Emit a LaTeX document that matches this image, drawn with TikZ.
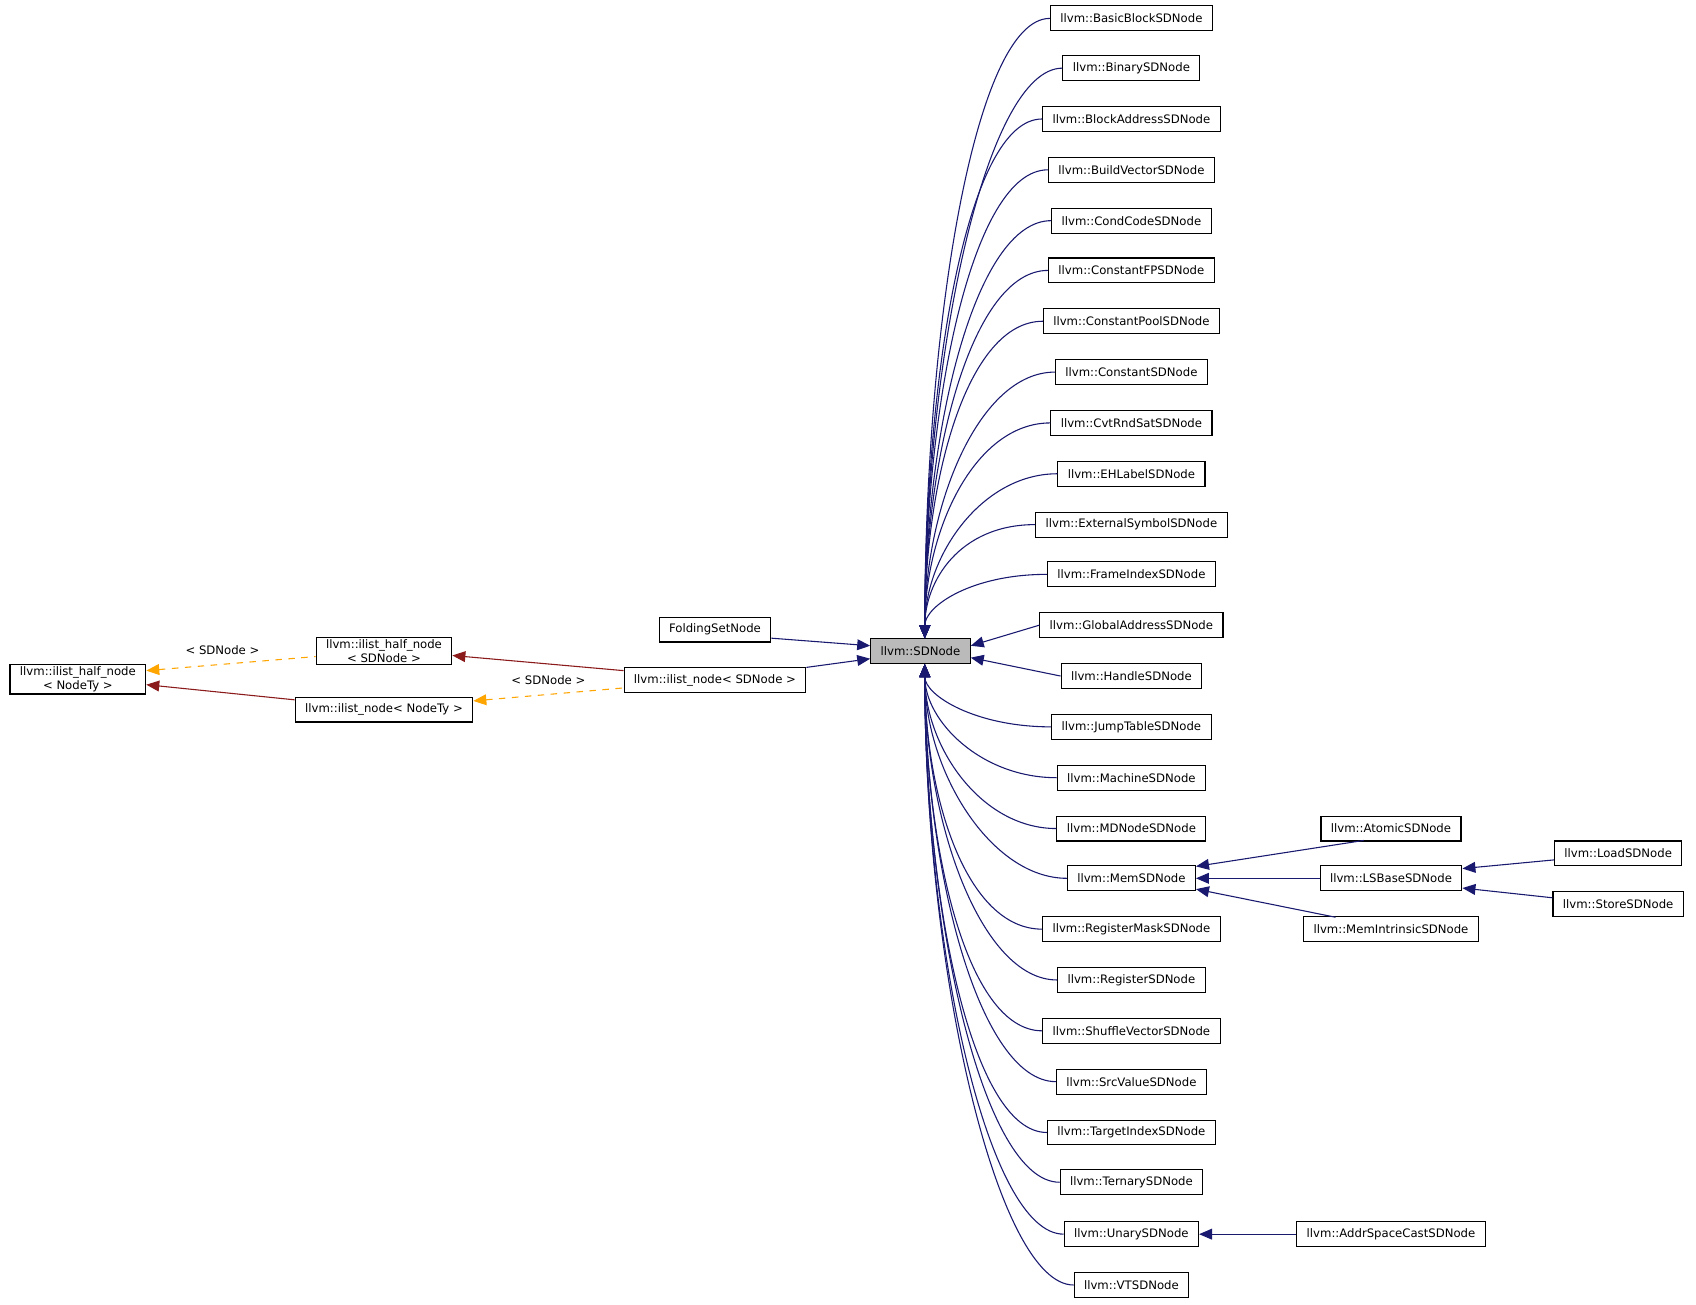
\documentclass[tikz,border=0pt]{standalone}
\usepackage{fontspec}
\setmainfont{DejaVu Sans}
\usetikzlibrary{arrows.meta,calc}
\definecolor{navy}{HTML}{191970}
\definecolor{redb}{HTML}{8B1A1A}
\definecolor{orng}{HTML}{FFA500}
\tikzset{
 box/.style={draw,fill=white,line width=0.5pt,minimum height=11.5pt,inner xsep=4.6pt,inner ysep=1pt,font=\fontsize{5.4}{6.4}\selectfont,align=center},
 nv/.style={draw=navy,line width=0.5pt,{Triangle[length=6pt,width=5pt]}-},
 rd/.style={draw=redb,line width=0.5pt,{Triangle[length=6pt,width=5pt]}-},
 og/.style={draw=orng,dashed,line width=0.5pt,{Triangle[length=6pt,width=5pt]}-},
 lbl/.style={font=\fontsize{5.4}{6.4}\selectfont}
}
\begin{document}
\begin{tikzpicture}[x=0.5pt,y=-0.5pt]
\useasboundingbox (0,0) rectangle (1568,1206);
\node[box,fill=black!27] (sd) at (851,602) {llvm::SDNode};
\node[box] (fs) at (661,582) {FoldingSetNode};
\node[box] (ils) at (661,629) {llvm::ilist\_node< SDNode >};
\node[box] (ihs) at (355,602) {llvm::ilist\_half\_node\\< SDNode >};
\node[box] (iln) at (355,656) {llvm::ilist\_node< NodeTy >};
\node[box] (ihn) at (72,628) {llvm::ilist\_half\_node\\< NodeTy >};
\foreach \n/\y/\t in {bb/17/BasicBlockSDNode,bin/63/BinarySDNode,ba/110/BlockAddressSDNode,bv/157/BuildVectorSDNode,cc/204/CondCodeSDNode,cfp/250/ConstantFPSDNode,cp/297/ConstantPoolSDNode,cs/344/ConstantSDNode,cvt/391/CvtRndSatSDNode,eh/438/EHLabelSDNode,es/485/ExternalSymbolSDNode,fi/531/FrameIndexSDNode}{
 \node[box] (\n) at (1046,\y) {llvm::\t};
 \draw[nv] ($(sd.north)+(4,0)$) .. controls +(0,{-0.5*(590-\y)}) and +(-70,0) .. (\n.west);
}
\node[box] (ga) at (1046,578) {llvm::GlobalAddressSDNode};
\node[box] (hd) at (1046,625) {llvm::HandleSDNode};
\draw[nv] ($(sd.east)+(0,-5)$) -- (ga.west);
\draw[nv] ($(sd.east)+(0,6)$) -- (hd.west);
\foreach \n/\y/\t in {jt/672/JumpTableSDNode,ma/719/MachineSDNode,md/766/MDNodeSDNode,mem/812/MemSDNode,rm/859/RegisterMaskSDNode,rg/906/RegisterSDNode,sv/953/ShuffleVectorSDNode,src/1000/SrcValueSDNode,ti/1047/TargetIndexSDNode,ter/1093/TernarySDNode,un/1141/UnarySDNode,vt/1188/VTSDNode}{
 \node[box] (\n) at (1046,\y) {llvm::\t};
 \draw[nv] ($(sd.south)+(4,0)$) .. controls +(0,{0.5*(\y-614)}) and +(-70,0) .. (\n.west);
}
\node[box] (at) at (1286,766) {llvm::AtomicSDNode};
\node[box] (ls) at (1286,812) {llvm::LSBaseSDNode};
\node[box] (mi) at (1286,859) {llvm::MemIntrinsicSDNode};
\node[box] (ld) at (1496,789) {llvm::LoadSDNode};
\node[box] (st) at (1496,836) {llvm::StoreSDNode};
\node[box] (asc) at (1286,1141) {llvm::AddrSpaceCastSDNode};
\draw[nv] ($(mem.east)+(0,-11)$) -- ($(at.west)+(40,11)$);
\draw[nv] (mem.east) -- (ls.west);
\draw[nv] ($(mem.east)+(0,10)$) -- ($(mi.west)+(30,-11)$);
\draw[nv] ($(ls.east)+(0,-9)$) -- ($(ld.west)+(0,6)$);
\draw[nv] ($(ls.east)+(0,9)$) -- ($(st.west)+(0,-6)$);
\draw[nv] (un.east) -- (asc.west);
\draw[nv] ($(sd.west)+(0,-5)$) -- ($(fs.east)+(0,8)$);
\draw[nv] ($(sd.west)+(0,7)$) -- ($(ils.east)+(0,-12)$);
\draw[rd] ($(ihs.east)+(0,4)$) -- ($(ils.west)+(0,-9)$);
\draw[rd] ($(ihn.east)+(0,5)$) -- ($(iln.west)+(0,-9)$);
\draw[og] ($(ihn.east)+(0,-8)$) -- ($(ihs.west)+(0,5)$) node[lbl,pos=0.45,above=1pt] {< SDNode >};
\draw[og] ($(iln.east)+(0,-8)$) -- ($(ils.west)+(0,7)$) node[lbl,pos=0.5,above=1pt] {< SDNode >};
\end{tikzpicture}
\end{document}
